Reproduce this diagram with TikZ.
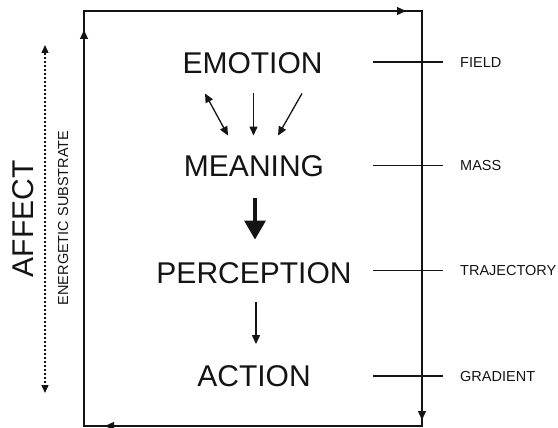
\documentclass[tikz,border=0pt]{standalone}
\usepackage{fontspec}
\setmainfont{Liberation Sans}
\usepackage{xcolor}
\definecolor{inkblack}{RGB}{20, 20, 20}
\usetikzlibrary{arrows.meta, positioning, calc, decorations.markings}

\begin{document}
\begin{tikzpicture}[
    x=1pt, y=-1pt,
    every node/.style={text=inkblack},
    stagebox/.style={inner sep=0pt, text height=21.5pt, text depth=0pt,
                     font=\fontsize{30}{36}\selectfont},
    sidelabel/.style={inner sep=0pt, text height=10.4pt, text depth=0pt,
                      anchor=west, font=\fontsize{14.5}{17}\selectfont},
    affectlabel/.style={inner sep=0pt, text height=21.5pt, text depth=0pt,
                        rotate=90, font=\fontsize{30}{36}\selectfont},
    substratelabel/.style={inner sep=0pt, text height=10.4pt, text depth=0pt,
                           rotate=90, font=\fontsize{14.5}{17}\selectfont},
    flowarrow/.style={-{Triangle[length=9pt,width=8pt]}, line width=1.3pt, draw=inkblack},
    looparrow/.style={line width=1.3pt, draw=inkblack, postaction={decorate},
        decoration={markings,
            mark=at position 396pt with {\arrow{Triangle[length=9pt,width=8pt]}},
            mark=at position 737pt with {\arrow{Triangle[length=9pt,width=8pt]}},
            mark=at position 1162pt with {\arrow{Triangle[length=9pt,width=8pt]}},
            mark=at position 1485pt with {\arrow{Triangle[length=9pt,width=8pt]}}}}
]
    \useasboundingbox (0,0) rectangle (558,428);

    % Outer loop
    \coordinate (bl) at (84,426);
    \coordinate (tl) at (84,11);
    \coordinate (tr) at (422,11);
    \coordinate (br) at (422,426);
    \draw[looparrow] (bl) -- (tl) -- (tr) -- (br) -- cycle;

    % Stages
    \node[stagebox] (emotion) at (252.5,62.5) {EMOTION};
    \node[stagebox] (meaning) at (254,165.5) {MEANING};
    \node[stagebox] (perception) at (254,272.5) {PERCEPTION};
    \node[stagebox] (action) at (254,376) {ACTION};

    % Stage arrows
    \draw[flowarrow, {Triangle[length=9pt,width=8pt]}-{Triangle[length=9pt,width=8pt]}]
        ($(emotion.south)+(-47.5,20)$) -- ($(meaning.north)+(-26,-19)$);
    \draw[flowarrow] ($(emotion.south)+(1,20)$) -- ($(meaning.north)+(-0.5,-19)$);
    \draw[flowarrow] ($(emotion.south)+(49.5,20)$) -- ($(meaning.north)+(24,-19)$);
    \draw[-{Triangle[length=19pt,width=21pt]}, line width=3.5pt, draw=inkblack]
        ($(meaning.south)+(1,22)$) -- ($(perception.north)+(1,-22)$);
    \draw[flowarrow, -{Triangle[length=9pt,width=8pt]}]
        ($(perception.south)+(2,19)$) -- ($(action.north)+(2,-21)$);

    % Side labels
    \node[sidelabel] (field) at (460,62) {FIELD};
    \node[sidelabel] (mass) at (460,165.5) {MASS};
    \node[sidelabel] (trajectory) at (460,270.5) {TRAJECTORY};
    \node[sidelabel] (gradient) at (460,376) {GRADIENT};
    \foreach \lbl in {field, mass, trajectory, gradient}
        \draw[line width=1.3pt, draw=inkblack] ($(\lbl.west)+(-17,0)$) -- ++(-70,0);

    % Affect axis
    \node[affectlabel] (affect) at (22.5,219) {AFFECT};
    \node[substratelabel] (substrate) at (63,218) {ENERGETIC SUBSTRATE};
    \coordinate (subtop) at (45,45);
    \coordinate (subbot) at (45,393);
    \draw[{Triangle[length=8pt,width=7pt]}-{Triangle[length=8pt,width=7pt]},
          line width=1.3pt, dash pattern=on 2.5pt off 1.5pt, draw=inkblack] (subtop) -- (subbot);
\end{tikzpicture}
\end{document}
